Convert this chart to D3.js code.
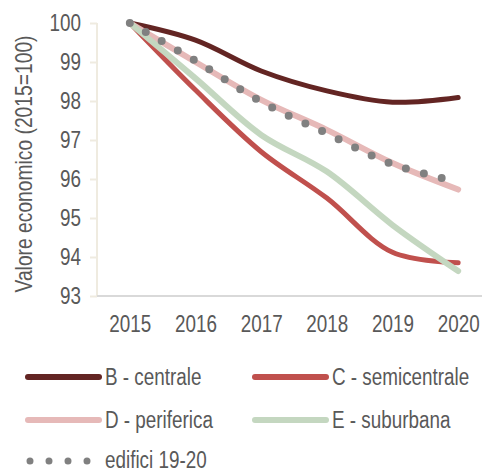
<!DOCTYPE html>
<html>
<head>
<meta charset="utf-8">
<script src="https://cdn.jsdelivr.net/npm/d3@7"></script>
<style>
  html, body { margin: 0; padding: 0; background: #fff; }
  svg { display: block; }
  text { font-family: "Liberation Sans", Arial, sans-serif; fill: #595959; }
</style>
</head>
<body>
<svg id="chart" width="482" height="472"></svg>
<script>
// Years on the horizontal axis
const years = ["2015", "2016", "2017", "2018", "2019", "2020"];
// Economic value index per zone (2015 = 100)
const centrale     = [100, 99.56, 98.77, 98.26, 97.97, 98.09];
const semicentrale = [100, 98.28, 96.70, 95.51, 94.12, 93.85];
const periferica   = [100, 99.00, 98.03, 97.26, 96.41, 95.73];
const suburbana    = [100, 98.58, 97.13, 96.19, 94.82, 93.64];
const edifici1920  = [100, 99.03, 97.98, 97.17, 96.38, 95.93];
const yTicks = [93, 94, 95, 96, 97, 98, 99, 100];

const series = [
  { name: "B - centrale",     values: centrale,     color: "#632523", width: 5 },
  { name: "C - semicentrale", values: semicentrale, color: "#c0504d", width: 5 },
  { name: "D - periferica",   values: periferica,   color: "#e6b9b8", width: 6 },
  { name: "E - suburbana",    values: suburbana,    color: "#c4d7c0", width: 6 }
];
const dotted = { name: "edifici 19-20", values: edifici1920, color: "#808080", width: 8 };

const svg = d3.select("#chart");
const fontSize = 23;
const condense = 0.82; // horizontal squeeze giving a narrow typeface look

// Squeeze text horizontally around its own anchor point
function narrow(sel) {
  sel.each(function () {
    const t = d3.select(this);
    const tx = +t.attr("x") || 0;
    const ty = +t.attr("y") || 0;
    t.attr("x", 0).attr("y", 0)
      .attr("transform", `translate(${tx},${ty}) scale(${condense},1)`);
  });
}

const x = d3.scalePoint().domain(years).range([97, 491]).padding(0.5);
const y = d3.scaleLinear().domain([93, 100]).range([296, 23]);

// Y axis
const yAxis = svg.append("g").attr("transform", "translate(97,0)")
  .call(d3.axisLeft(y).tickValues(yTicks).tickSize(7).tickPadding(9).tickFormat(d3.format("d")));
yAxis.select(".domain").attr("stroke", "#efebe0").attr("stroke-width", 2).attr("d", "M0,23V296");
yAxis.selectAll(".tick line").attr("stroke", "#efebe0").attr("stroke-width", 2);
yAxis.selectAll(".tick text").style("font-size", fontSize + "px").attr("fill", "#595959").call(narrow);

// X axis
const xAxis = svg.append("g").attr("transform", "translate(0,296)")
  .call(d3.axisBottom(x).tickSize(0).tickPadding(20));
xAxis.select(".domain").attr("stroke", "#d9d9d9").attr("stroke-width", 2).attr("d", "M97,0H482");
xAxis.selectAll(".tick text").style("font-size", fontSize + "px").attr("fill", "#595959").call(narrow);

// Y axis title
svg.append("text")
  .attr("transform", `translate(32,164) rotate(-90) scale(${condense},1)`)
  .attr("text-anchor", "middle")
  .style("font-size", "23.5px")
  .text("Valore economico (2015=100)");

const line = d3.line()
  .x((d, i) => x(years[i]))
  .y(d => y(d))
  .curve(d3.curveCatmullRom.alpha(0.5));

series.forEach(s => {
  svg.append("path")
    .attr("d", line(s.values))
    .attr("fill", "none")
    .attr("stroke", s.color)
    .attr("stroke-width", s.width)
    .attr("stroke-linecap", "round");
});

svg.append("path")
  .attr("d", line(dotted.values))
  .attr("fill", "none")
  .attr("stroke", dotted.color)
  .attr("stroke-width", dotted.width)
  .attr("stroke-linecap", "round")
  .attr("stroke-dasharray", "0 18.4");

// Legend
const legendItems = [
  { s: series[0], x: 28,  y: 377 },
  { s: series[1], x: 255, y: 377 },
  { s: series[2], x: 28,  y: 420 },
  { s: series[3], x: 255, y: 420 }
];
legendItems.forEach(it => {
  svg.append("line")
    .attr("x1", it.x).attr("x2", it.x + 71)
    .attr("y1", it.y).attr("y2", it.y)
    .attr("stroke", it.s.color)
    .attr("stroke-width", 6)
    .attr("stroke-linecap", "round");
  svg.append("text")
    .attr("x", it.x + 77).attr("y", it.y)
    .attr("dy", "0.35em")
    .style("font-size", fontSize + "px")
    .text(it.s.name)
    .call(narrow);
});
svg.append("line")
  .attr("x1", 30).attr("x2", 88)
  .attr("y1", 461).attr("y2", 461)
  .attr("stroke", dotted.color)
  .attr("stroke-width", 7)
  .attr("stroke-linecap", "round")
  .attr("stroke-dasharray", "0 19");
svg.append("text")
  .attr("x", 105).attr("y", 461)
  .attr("dy", "0.3em")
  .style("font-size", fontSize + "px")
  .text(dotted.name)
  .call(narrow);
</script>
</body>
</html>
